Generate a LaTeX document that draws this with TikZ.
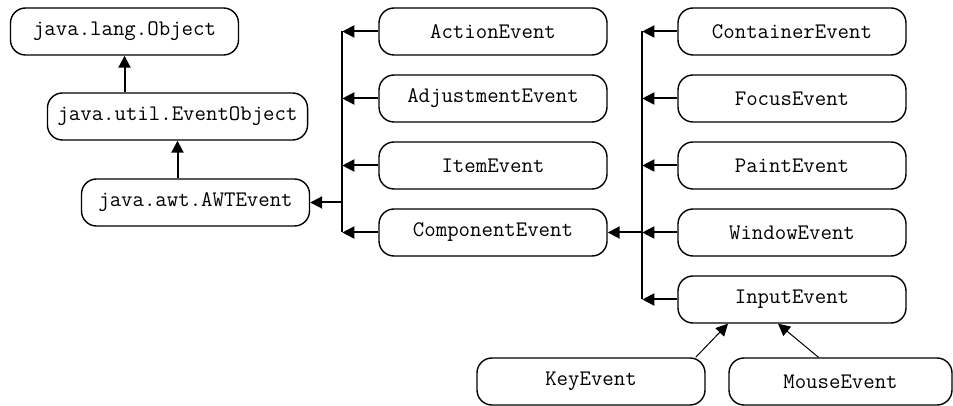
\documentclass[tikz,border=0pt]{standalone}
\usepackage{fontspec}
\usetikzlibrary{positioning, arrows.meta}

\begin{document}
\begin{tikzpicture}[x=0.5pt, y=-0.5pt, node distance=9.3pt,
    cls/.style={draw, rounded corners=7.5pt, line width=0.7pt, minimum width=114pt, minimum height=23.5pt, inner xsep=5pt, font=\ttfamily\fontsize{11.1pt}{13pt}\selectfont},
    inh/.style={-{Triangle[length=6pt, width=6pt]}, line width=1pt},
    sub/.style={-{Triangle[length=6pt, width=6pt]}, line width=0.5pt}]
  \useasboundingbox (0,0) rectangle (953,406);

  % root chain
  \node[cls] (object) at (124.5,31.5) {java.lang.Object};
  \node[cls] (eventobj) at (177.5,116.5) {java.util.EventObject};
  \node[cls] (awt) at (195.5,202.5) {java.awt.AWTEvent};
  \draw[inh] (eventobj.north -| object) -- (object);
  \draw[inh] (awt.north -| eventobj) -- (eventobj);

  % AWTEvent subclasses
  \node[cls] (action) at (493,31.5) {ActionEvent};
  \node[cls, below=of action] (adjust) {AdjustmentEvent};
  \node[cls, below=of adjust] (item) {ItemEvent};
  \node[cls, below=of item] (component) {ComponentEvent};
  \coordinate[left=18pt of action] (ltop);
  \draw[line width=1pt] (ltop) -- (ltop |- component);
  \draw[inh] (action) -- (ltop);
  \draw[inh] (adjust) -- (ltop |- adjust);
  \draw[inh] (item) -- (ltop |- item);
  \draw[inh] (component) -- (ltop |- component);
  \draw[inh] (ltop |- awt) -- (awt);

  % ComponentEvent subclasses
  \node[cls] (container) at (792,31.5) {ContainerEvent};
  \node[cls, below=of container] (focus) {FocusEvent};
  \node[cls, below=of focus] (paint) {PaintEvent};
  \node[cls, below=of paint] (window) {WindowEvent};
  \node[cls, below=of window] (input) {InputEvent};
  \coordinate[left=17.5pt of container] (rtop);
  \draw[line width=1pt] (rtop) -- (rtop |- input);
  \draw[inh] (container) -- (rtop);
  \draw[inh] (focus) -- (rtop |- focus);
  \draw[inh] (paint) -- (rtop |- paint);
  \draw[inh] (window) -- (rtop |- window);
  \draw[inh] (input) -- (rtop |- input);
  \draw[inh] (rtop |- component) -- (component);

  % InputEvent subclasses
  \node[cls] (key) at (591,381.5) {KeyEvent};
  \node[cls, minimum width=111.5pt] (mouse) at (840.5,381.5) {MouseEvent};
  \draw[sub] ([xshift=-5pt]key.north east) -- ([xshift=-32pt]input.south);
  \draw[sub] ([xshift=-11pt]mouse.north) -- ([xshift=-7pt]input.south);
\end{tikzpicture}
\end{document}
